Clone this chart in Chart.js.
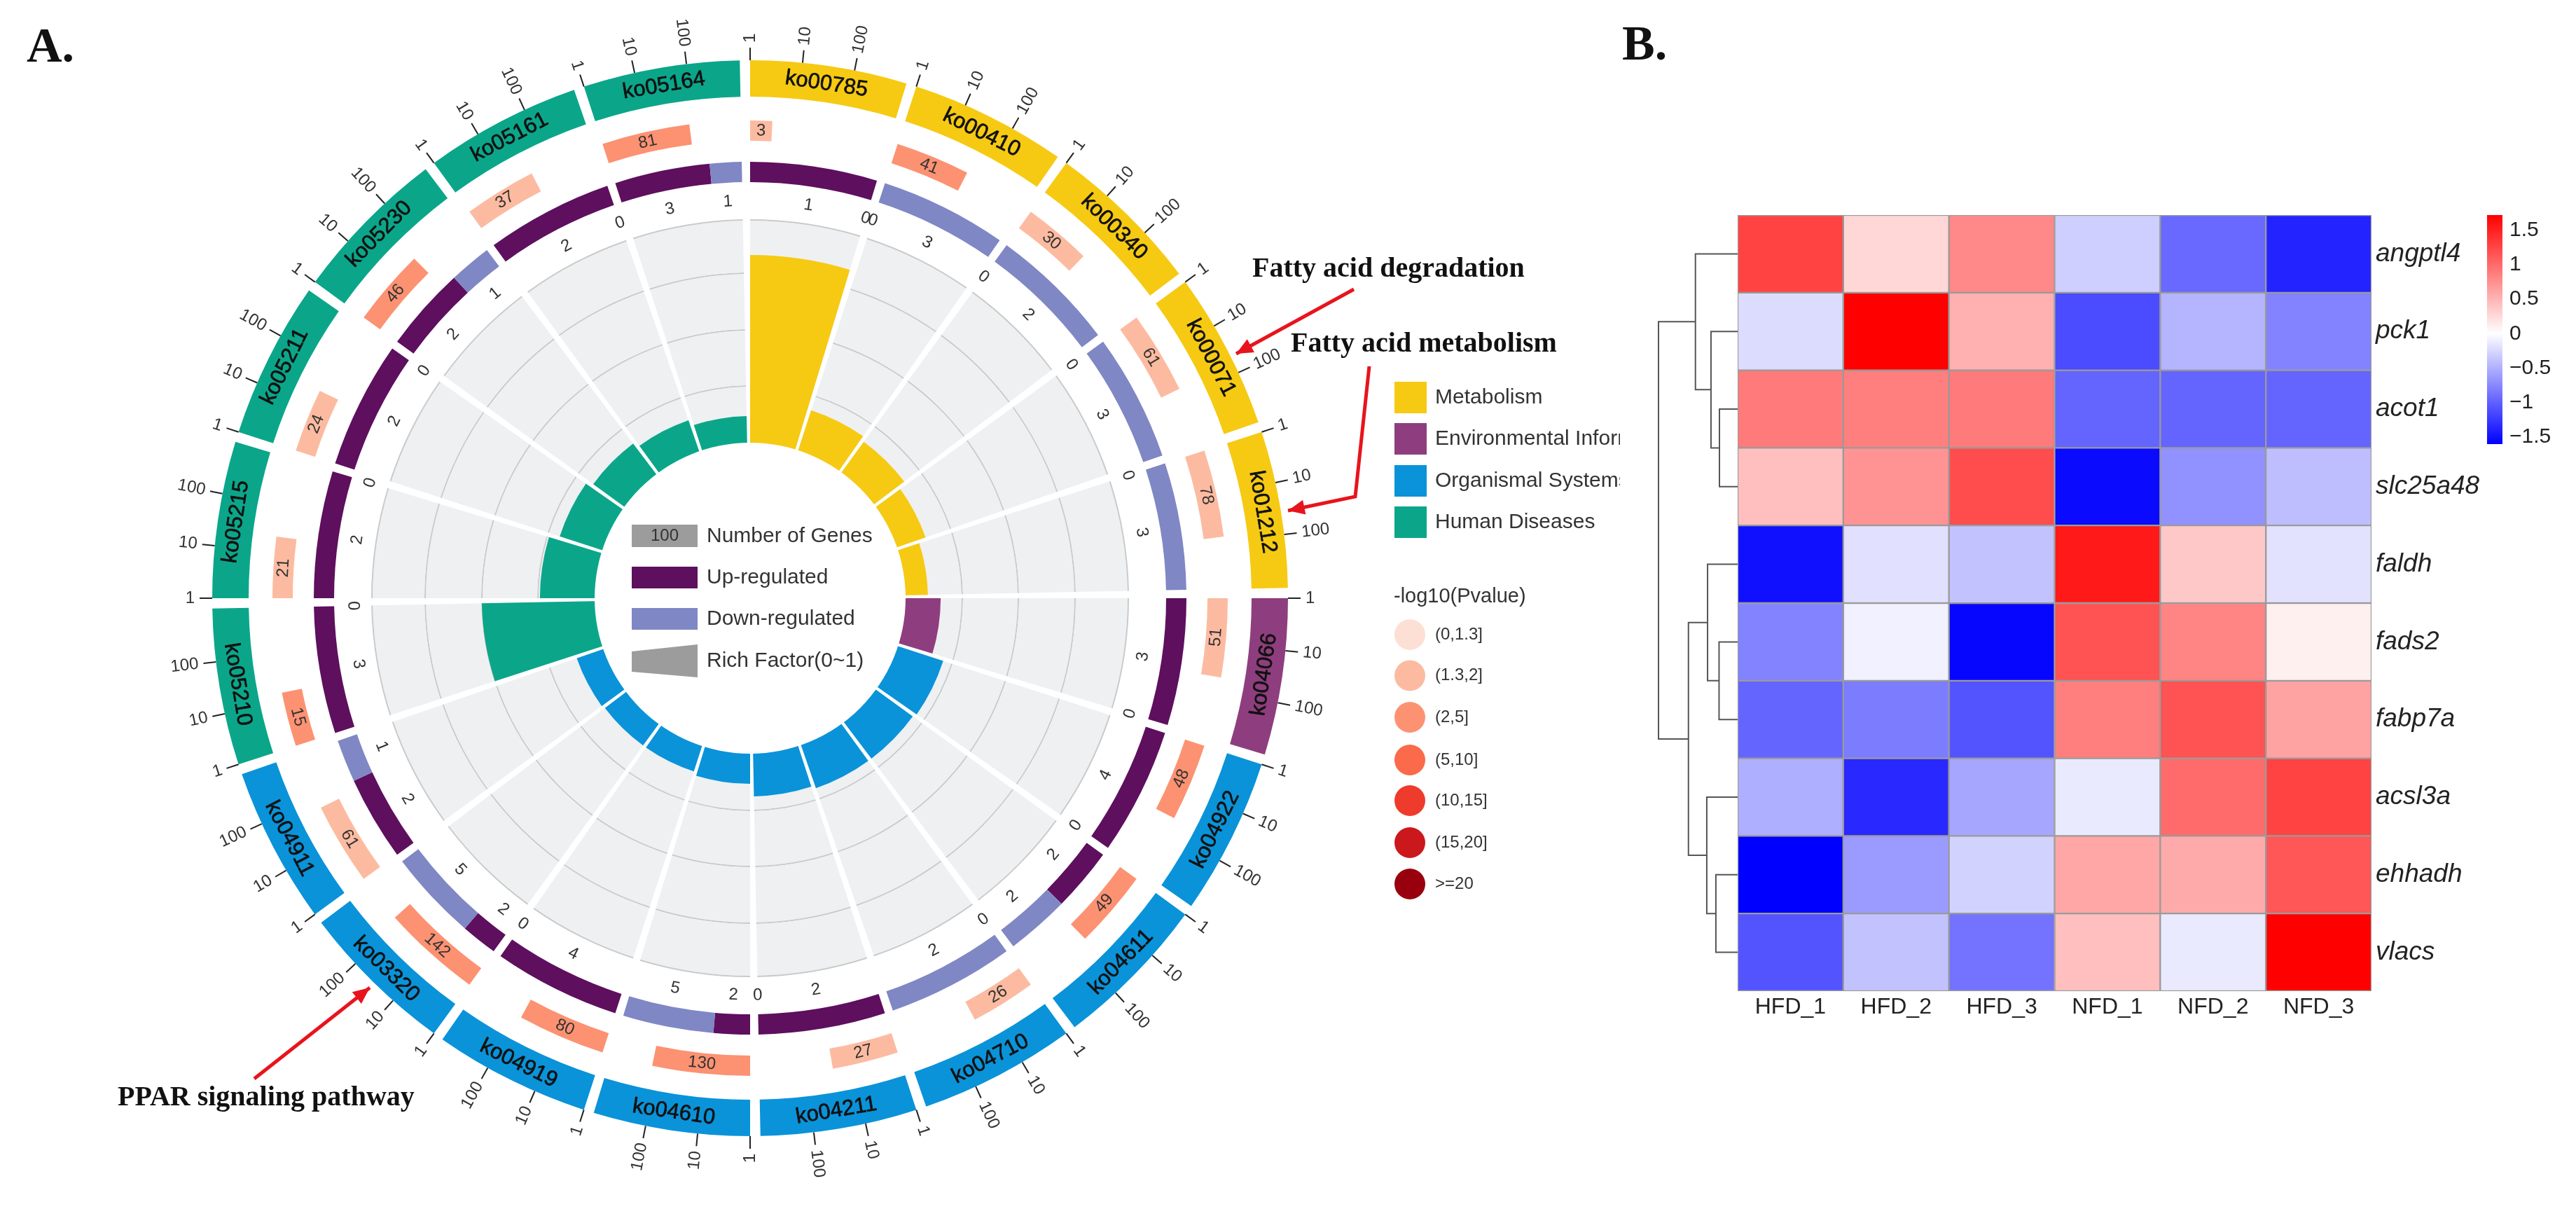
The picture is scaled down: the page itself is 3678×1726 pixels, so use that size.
<!DOCTYPE html>
<html>
<head>
<meta charset="utf-8">
<title>KEGG circos and heatmap</title>
<script src="https://cdn.jsdelivr.net/npm/chart.js@4"></script>
<style>
  body { margin: 0; background: #fff; }
  #page { position: relative; width: 3678px; height: 1726px; overflow: hidden; }
  canvas { position: absolute; left: 0; top: 0; }
</style>
</head>
<body>
<div id="page">
  <canvas id="rings" width="3678" height="1726"></canvas>
  <canvas id="rich" width="3678" height="1726"></canvas>
  <canvas id="heat" width="3678" height="1726"></canvas>
  <canvas id="dendro" width="3678" height="1726"></canvas>
  <canvas id="colorbar" width="3678" height="1726"></canvas>
</div>
<script>
// panel A data, clockwise from the top
const pathways = ['ko00785', 'ko00410', 'ko00340', 'ko00071', 'ko01212', 'ko04066', 'ko04922', 'ko04611', 'ko04710', 'ko04211',
  'ko04610', 'ko04919', 'ko03320', 'ko04911', 'ko05210', 'ko05215', 'ko05211', 'ko05230', 'ko05161', 'ko05164'];
const pathwayClass = [0, 0, 0, 0, 0, 1, 2, 2, 2, 2, 2, 2, 2, 2, 3, 3, 3, 3, 3, 3];
const geneCounts = [3, 41, 30, 61, 78, 51, 48, 49, 26, 27, 130, 80, 142, 61, 15, 21, 24, 46, 37, 81];
const pvalueBin = [1, 2, 1, 1, 1, 1, 2, 2, 1, 1, 2, 2, 2, 1, 2, 1, 1, 2, 1, 2];
const upCounts = [1, 0, 0, 0, 0, 3, 4, 2, 0, 2, 2, 4, 2, 2, 3, 2, 2, 2, 2, 3];
const downCounts = [0, 3, 2, 3, 3, 0, 0, 2, 2, 0, 5, 0, 5, 1, 0, 0, 0, 1, 0, 1];
const richFactors = [0.84, 0.188, 0.169, 0.135, 0.10, 0.157, 0.213, 0.204, 0.204, 0.191,
  0.135, 0.119, 0.119, 0.125, 0.505, 0.245, 0.20, 0.172, 0.147, 0.119];
const logTicks = [1, 10, 100];

const classNames = ['Metabolism', 'Environmental Information Processing', 'Organismal Systems', 'Human Diseases'];
const classColors = ['#f6ca13', '#8e3e7e', '#0a93d9', '#0ba68a'];
const pvalueLabels = ['(0,1.3]', '(1.3,2]', '(2,5]', '(5,10]', '(10,15]', '(15,20]', '>=20'];
const pvalueColors = ['#fde0d5', '#fcbba1', '#fc9272', '#fb6a4a', '#ef3b2c', '#cb181d', '#99000d'];
const upColor = '#5e0f5e';
const downColor = '#7f87c4';

// panel B data
const genes = ['angptl4', 'pck1', 'acot1', 'slc25a48', 'faldh', 'fads2', 'fabp7a', 'acsl3a', 'ehhadh', 'vlacs'];
const samples = ['HFD_1', 'HFD_2', 'HFD_3', 'NFD_1', 'NFD_2', 'NFD_3'];
const angptl4 = [1.27, 0.27, 0.80, -0.31, -0.94, -1.38];
const pck1 = [-0.22, 1.72, 0.53, -1.13, -0.47, -0.78];
const acot1 = [0.90, 0.87, 0.90, -0.97, -0.97, -0.97];
const slc25a48 = [0.43, 0.73, 1.20, -1.54, -0.69, -0.41];
const faldh = [-1.50, -0.19, -0.38, 1.55, 0.37, -0.18];
const fads2 = [-0.78, -0.09, -1.56, 1.17, 0.83, 0.10];
const fabp7a = [-0.97, -0.82, -1.07, 0.87, 1.17, 0.63];
const acsl3a = [-0.50, -1.35, -0.56, -0.13, 1.00, 1.27];
const ehhadh = [-1.60, -0.63, -0.28, 0.60, 0.57, 1.13];
const vlacs = [-1.07, -0.38, -0.88, 0.43, -0.13, 1.72];
const heatRows = [angptl4, pck1, acot1, slc25a48, faldh, fads2, fabp7a, acsl3a, ehhadh, vlacs];
const colorMin = -1.6;
const colorMax = 1.72;

// dendrogram: children (leaf = row index, 10+ = earlier merge) and height
const mergeLeft = [2, 1, 0, 5, 4, 8, 7, 14, 12];
const mergeRight = [3, 10, 11, 6, 13, 9, 15, 16, 17];
const mergeHeight = [1.38, 2.02, 3.2, 1.41, 2.28, 1.65, 2.34, 3.73, 6];

// geometry of the circle
const W = 3678, H = 1726;
const cx = 1071, cy = 854;
const SECTOR = 16.9, GAP = 1.1, STEP = SECTOR + GAP;
const DECADE = 5.6;
const R_OUT = 768, R_CAT_IN = 716, R_P_OUT = 682, R_P_IN = 653, R_UD_OUT = 623, R_UD_IN = 594;
const R_GREY = 541, R_HOLE = 222;
const GREY = '#eef0f2', GRIDLINE = '#c9cacb';
const SANS = '"Liberation Sans"';
const SERIF = '"Liberation Serif"';

Chart.defaults.font.family = SANS;
Chart.defaults.animation = false;

function sectorPattern(color) {
  return {
    data: pathways.flatMap(() => [SECTOR, GAP]),
    backgroundColor: pathways.flatMap((p, i) => [typeof color === 'function' ? color(i) : color, 'transparent'])
  };
}

function spacer(weight) {
  return { data: [1], backgroundColor: ['transparent'], weight: weight, borderWidth: 0 };
}

function ring(obj, weight) {
  obj.weight = weight;
  obj.borderWidth = 0;
  return obj;
}

// -log10 scaled bar, one per pathway
const pvalueRing = {
  data: geneCounts.flatMap(c => {
    const span = Math.log10(c) * DECADE;
    return [span, STEP - span];
  }),
  backgroundColor: pvalueBin.flatMap(b => [pvalueColors[b], 'transparent'])
};

// up then down, shared out over the sector
const regulationRing = {
  data: pathways.flatMap((p, i) => {
    const total = upCounts[i] + downCounts[i];
    return [SECTOR * upCounts[i] / total, SECTOR * downCounts[i] / total, GAP];
  }),
  backgroundColor: pathways.flatMap(() => [upColor, downColor, 'transparent'])
};

const gridRadii = [464, 383, 303];
const greyRings = [
  ring(sectorPattern(GRIDLINE), 2),
  ring(sectorPattern(GREY), R_GREY - 2 - gridRadii[0] - 1),
  ring(sectorPattern(GRIDLINE), 2),
  ring(sectorPattern(GREY), gridRadii[0] - gridRadii[1] - 2),
  ring(sectorPattern(GRIDLINE), 2),
  ring(sectorPattern(GREY), gridRadii[1] - gridRadii[2] - 2),
  ring(sectorPattern(GRIDLINE), 2),
  ring(sectorPattern(GREY), gridRadii[2] - 1 - R_HOLE)
];

new Chart(document.getElementById('rings'), {
  type: 'doughnut',
  data: {
    datasets: [
      ring(sectorPattern(i => classColors[pathwayClass[i]]), R_OUT - R_CAT_IN),
      spacer(R_CAT_IN - R_P_OUT),
      ring(pvalueRing, R_P_OUT - R_P_IN),
      spacer(R_P_IN - R_UD_OUT),
      ring(regulationRing, R_UD_OUT - R_UD_IN),
      spacer(R_UD_IN - R_GREY)
    ].concat(greyRings)
  },
  options: {
    responsive: false,
    devicePixelRatio: 1,
    cutout: R_HOLE,
    layout: { padding: { left: cx - R_OUT, right: W - cx - R_OUT, top: cy - R_OUT, bottom: H - cy - R_OUT } },
    plugins: { legend: { display: false }, tooltip: { enabled: false } }
  }
});

function px(theta, r) { return cx + r * Math.sin(theta * Math.PI / 180); }
function py(theta, r) { return cy - r * Math.cos(theta * Math.PI / 180); }

function tangentRotation(theta) {
  return (theta < 90 || theta > 270) ? theta : theta - 180;
}

function textAt(ctx, str, x, y, rotDeg, align, heavy) {
  ctx.save();
  ctx.translate(x, y);
  ctx.rotate(rotDeg * Math.PI / 180);
  ctx.textAlign = align || 'center';
  ctx.textBaseline = 'middle';
  if (heavy) {
    ctx.strokeStyle = ctx.fillStyle;
    ctx.lineWidth = heavy;
    ctx.strokeText(str, 0, 0);
  }
  ctx.fillText(str, 0, 0);
  ctx.restore();
}

function arrow(ctx, pts) {
  ctx.strokeStyle = '#e8141c';
  ctx.fillStyle = '#e8141c';
  ctx.lineWidth = 5;
  ctx.beginPath();
  pts.forEach((p, i) => i ? ctx.lineTo(p[0], p[1]) : ctx.moveTo(p[0], p[1]));
  ctx.stroke();
  const a = pts[pts.length - 1], b = pts[pts.length - 2];
  const ang = Math.atan2(a[1] - b[1], a[0] - b[0]);
  ctx.beginPath();
  ctx.moveTo(a[0], a[1]);
  ctx.lineTo(a[0] - 26 * Math.cos(ang - 0.42), a[1] - 26 * Math.sin(ang - 0.42));
  ctx.lineTo(a[0] - 26 * Math.cos(ang + 0.42), a[1] - 26 * Math.sin(ang + 0.42));
  ctx.closePath();
  ctx.fill();
}

// everything written on and around the circle
const circleText = {
  id: 'circleText',
  afterDatasetsDraw(chart) {
    const ctx = chart.ctx;
    ctx.save();
    ctx.fillStyle = '#fff';
    ctx.beginPath();
    ctx.arc(cx, cy, R_HOLE, 0, Math.PI * 2);
    ctx.fill();

    pathways.forEach((name, i) => {
      const start = i * STEP;
      const mid = start + SECTOR / 2;

      // log ticks on the outer band
      logTicks.forEach((t, k) => {
        const th = start + Math.log10(t) * DECADE;
        ctx.strokeStyle = '#222';
        ctx.lineWidth = 2;
        ctx.beginPath();
        ctx.moveTo(px(th, R_OUT), py(th, R_OUT));
        ctx.lineTo(px(th, 786), py(th, 786));
        ctx.stroke();
        ctx.fillStyle = '#333';
        ctx.font = '24px ' + SANS;
        if (th < 180) textAt(ctx, String(t), px(th, 793), py(th, 793), th - 90, 'left');
        else textAt(ctx, String(t), px(th, 793), py(th, 793), th - 270, 'right');
      });

      ctx.fillStyle = '#111';
      ctx.font = '31px ' + SANS;
      const rc = (R_OUT + R_CAT_IN) / 2;
      textAt(ctx, name, px(mid, rc), py(mid, rc), tangentRotation(mid), 'center', 0.7);

      // gene count in the middle of its bar
      const pMid = start + Math.log10(geneCounts[i]) * DECADE / 2;
      const rp = (R_P_OUT + R_P_IN) / 2;
      ctx.fillStyle = '#333';
      ctx.font = '24px ' + SANS;
      textAt(ctx, String(geneCounts[i]), px(pMid, rp), py(pMid, rp), tangentRotation(pMid));

      // up and down numbers under the regulation band
      const total = upCounts[i] + downCounts[i];
      const upSpan = SECTOR * upCounts[i] / total;
      const downSpan = SECTOR * downCounts[i] / total;
      const upAt = start + upSpan / 2;
      const downAt = start + upSpan + downSpan / 2;
      textAt(ctx, String(upCounts[i]), px(upAt, 567), py(upAt, 567), tangentRotation(upAt));
      textAt(ctx, String(downCounts[i]), px(downAt, 567), py(downAt, 567), tangentRotation(downAt));
    });

    // legend in the middle
    ctx.fillStyle = '#9c9c9c';
    ctx.fillRect(902, 749, 94, 32);
    ctx.fillStyle = upColor;
    ctx.fillRect(902, 809, 94, 31);
    ctx.fillStyle = downColor;
    ctx.fillRect(902, 868, 94, 31);
    ctx.fillStyle = '#9c9c9c';
    ctx.beginPath();
    ctx.moveTo(902, 930);
    ctx.lineTo(996, 920);
    ctx.lineTo(996, 967);
    ctx.lineTo(902, 959);
    ctx.closePath();
    ctx.fill();
    ctx.fillStyle = '#333';
    ctx.font = '24px ' + SANS;
    textAt(ctx, '100', 949, 765, 0);
    ctx.font = '30px ' + SANS;
    textAt(ctx, 'Number of Genes', 1009, 766, 0, 'left');
    textAt(ctx, 'Up-regulated', 1009, 825, 0, 'left');
    textAt(ctx, 'Down-regulated', 1009, 884, 0, 'left');
    textAt(ctx, 'Rich Factor(0~1)', 1009, 944, 0, 'left');

    // class legend, cut off by the panel edge
    const classY = [568, 627, 687, 746];
    ctx.save();
    ctx.beginPath();
    ctx.rect(1980, 530, 333, 240);
    ctx.clip();
    classNames.forEach((n, i) => {
      ctx.fillStyle = classColors[i];
      ctx.fillRect(1991, classY[i] - 23, 46, 45);
      ctx.fillStyle = '#333';
      ctx.font = '30px ' + SANS;
      textAt(ctx, n, 2049, classY[i], 0, 'left');
    });
    ctx.restore();

    // p value legend
    const binY = [906, 964.5, 1024, 1085, 1143, 1203, 1262];
    ctx.fillStyle = '#333';
    ctx.font = '29px ' + SANS;
    textAt(ctx, '-log10(Pvalue)', 1990, 852, 0, 'left');
    pvalueLabels.forEach((n, i) => {
      ctx.fillStyle = pvalueColors[i];
      ctx.beginPath();
      ctx.arc(2013, binY[i], 22, 0, Math.PI * 2);
      ctx.fill();
      ctx.fillStyle = '#333';
      ctx.font = '24px ' + SANS;
      textAt(ctx, n, 2049, binY[i], 0, 'left');
    });

    // panel letters and pathway notes
    ctx.fillStyle = '#111';
    ctx.font = 'bold 70px ' + SERIF;
    ctx.textAlign = 'left';
    ctx.textBaseline = 'alphabetic';
    ctx.fillText('A.', 38, 88);
    ctx.fillText('B.', 2316, 85);
    ctx.font = 'bold 40px ' + SERIF;
    textAt(ctx, 'Fatty acid degradation', 1788, 385, 0, 'left');
    textAt(ctx, 'Fatty acid metabolism', 1843, 492, 0, 'left');
    textAt(ctx, 'PPAR signaling pathway', 168, 1568, 0, 'left');
    arrow(ctx, [[1933, 413], [1765, 505]]);
    arrow(ctx, [[1955, 523], [1935, 709], [1839, 729]]);
    arrow(ctx, [[363, 1540], [528, 1410]]);
    ctx.restore();
  }
};

// rich factor bars: scale min puts rich factor 0 on the edge of the hole
new Chart(document.getElementById('rich'), {
  type: 'polarArea',
  data: {
    labels: pathways.flatMap(p => [p, '']),
    datasets: [{
      data: richFactors.flatMap(v => [v, 0]),
      angle: c => (c.dataIndex % 2 ? GAP : SECTOR),
      backgroundColor: pathwayClass.flatMap(c => [classColors[c], 'transparent']),
      borderWidth: 0
    }]
  },
  options: {
    responsive: false,
    devicePixelRatio: 1,
    layout: { padding: { left: cx - R_GREY, right: W - cx - R_GREY, top: cy - R_GREY, bottom: H - cy - R_GREY } },
    scales: { r: { display: false, min: -R_HOLE / (R_GREY - R_HOLE), max: 1 } },
    plugins: { legend: { display: false }, tooltip: { enabled: false } }
  },
  plugins: [circleText]
});

function heatColor(v) {
  const t = v >= 0 ? Math.min(v / colorMax, 1) : Math.min(-v / -colorMin, 1);
  const c = Math.round(255 * (1 - t));
  return v >= 0 ? `rgb(255,${c},${c})` : `rgb(${c},${c},255)`;
}

// panel B heatmap: one stacked unit per cell, colour carries the value
const HEAT_L = 2481, HEAT_R = 3386, HEAT_T = 307, HEAT_B = 1415;
new Chart(document.getElementById('heat'), {
  type: 'bar',
  data: {
    labels: genes,
    datasets: samples.map((s, col) => ({
      label: s,
      data: genes.map(() => 1),
      backgroundColor: heatRows.map(row => heatColor(row[col])),
      borderColor: '#9a9a9a',
      borderWidth: 1.5,
      borderSkipped: false,
      barPercentage: 1,
      categoryPercentage: 1
    }))
  },
  options: {
    indexAxis: 'y',
    responsive: false,
    devicePixelRatio: 1,
    layout: { padding: { left: HEAT_L, right: 0, top: HEAT_T, bottom: H - HEAT_B - 50 } },
    scales: {
      x: { display: false, stacked: true, min: 0, max: samples.length },
      sampleAxis: {
        type: 'category',
        axis: 'x',
        labels: samples,
        position: 'bottom',
        offset: true,
        grid: { display: false, drawTicks: false, offset: true },
        border: { display: false },
        ticks: { color: '#222', font: { size: 32 }, padding: 4, maxRotation: 0, autoSkip: false },
        afterFit: s => { s.height = 50; }
      },
      y: {
        stacked: true,
        position: 'right',
        grid: { display: false, drawTicks: false },
        border: { display: false },
        ticks: { color: '#222', font: { size: 37, style: 'italic' }, padding: 6, autoSkip: false },
        afterFit: s => { s.width = W - HEAT_R; }
      }
    },
    plugins: { legend: { display: false }, tooltip: { enabled: false } }
  }
});

// row position of every dendrogram node, leaves first
function nodeRow(id) {
  if (id < genes.length) return id + 0.5;
  const m = id - genes.length;
  return (nodeRow(mergeLeft[m]) + nodeRow(mergeRight[m])) / 2;
}
function nodeHeight(id) {
  return id < genes.length ? 0 : mergeHeight[id - genes.length];
}

new Chart(document.getElementById('dendro'), {
  type: 'scatter',
  data: {
    datasets: mergeHeight.map((h, m) => {
      const a = mergeLeft[m], b = mergeRight[m];
      return {
        data: [
          { x: nodeHeight(a), y: nodeRow(a) },
          { x: h, y: nodeRow(a) },
          { x: h, y: nodeRow(b) },
          { x: nodeHeight(b), y: nodeRow(b) }
        ],
        showLine: true,
        borderColor: '#555',
        borderWidth: 2,
        pointRadius: 0,
        clip: false
      };
    })
  },
  options: {
    responsive: false,
    devicePixelRatio: 1,
    layout: { padding: { left: 2368, right: W - HEAT_L, top: HEAT_T, bottom: H - HEAT_B } },
    scales: {
      x: { display: false, min: 0, max: 6, reverse: true },
      y: { display: false, min: 0, max: genes.length, reverse: true }
    },
    plugins: { legend: { display: false }, tooltip: { enabled: false } }
  }
});

// colour key
new Chart(document.getElementById('colorbar'), {
  type: 'bar',
  data: {
    labels: [''],
    datasets: [{
      data: [[colorMin, colorMax]],
      barPercentage: 1,
      categoryPercentage: 1,
      borderWidth: 0,
      backgroundColor: c => {
        const area = c.chart.chartArea;
        if (!area) return '#fff';
        const g = c.chart.ctx.createLinearGradient(0, area.top, 0, area.bottom);
        g.addColorStop(0, heatColor(colorMax));
        g.addColorStop(colorMax / (colorMax - colorMin), '#fff');
        g.addColorStop(1, heatColor(colorMin));
        return g;
      }
    }]
  },
  options: {
    responsive: false,
    devicePixelRatio: 1,
    layout: { padding: { left: 3551, right: 0, top: 307, bottom: H - 634 } },
    scales: {
      x: { display: false },
      y: {
        position: 'right',
        min: colorMin,
        max: colorMax,
        grid: { display: false, drawTicks: false },
        border: { display: false },
        ticks: {
          stepSize: 0.5,
          includeBounds: false,
          color: '#222',
          padding: 10,
          font: { size: 30 },
          callback: v => (v < 0 ? '\u2212' + (-v) : String(v))
        },
        afterFit: s => { s.width = W - 3573; }
      }
    },
    plugins: { legend: { display: false }, tooltip: { enabled: false } }
  }
});
</script>
</body>
</html>
